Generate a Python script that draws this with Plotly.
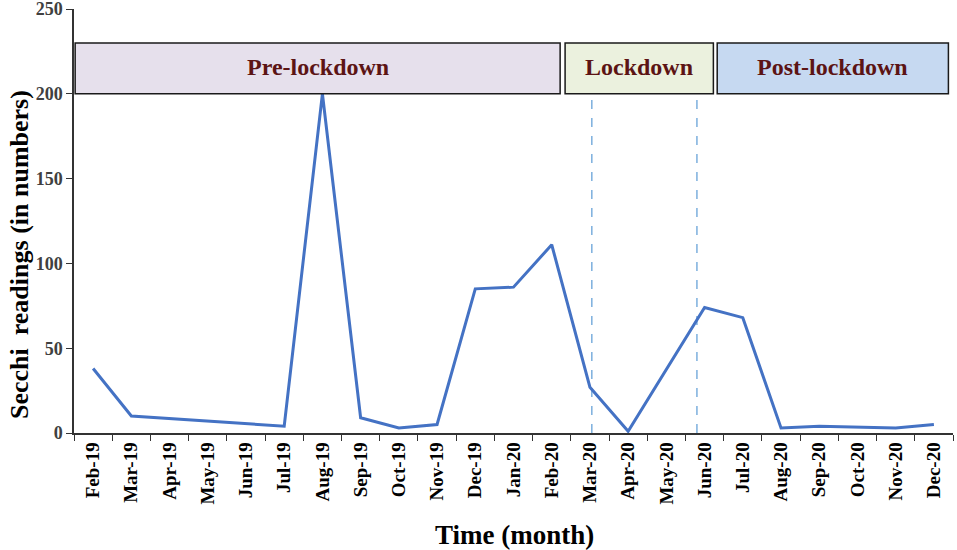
import plotly.graph_objects as go

months = ["Feb-19", "Mar-19", "Apr-19", "May-19", "Jun-19", "Jul-19", "Aug-19", "Sep-19",
          "Oct-19", "Nov-19", "Dec-19", "Jan-20", "Feb-20", "Mar-20", "Apr-20", "May-20",
          "Jun-20", "Jul-20", "Aug-20", "Sep-20", "Oct-20", "Nov-20", "Dec-20"]
secchi = [38, 10, None, None, None, 4, 200, 9, 3, 5, 85, 86, 111, 27, 1, None,
          74, 68, 3, 4, None, 3, 5]

phase_labels = ["Pre-lockdown", "Lockdown", "Post-lockdown"]
phase_x0 = [-0.47, 12.35, 16.33]
phase_x1 = [12.22, 16.23, 22.38]
phase_colors = ["#E6E0EC", "#EBF1DE", "#C6D9F1"]
phase_y0 = 200
phase_y1 = 230
lockdown_marks = [13.05, 15.8]

FONT = "Liberation Serif"

fig = go.Figure()
fig.add_trace(go.Scatter(x=months, y=secchi, mode="lines", connectgaps=True,
                         line=dict(color="#4472C4", width=3), showlegend=False))

for lab, x0, x1, c in zip(phase_labels, phase_x0, phase_x1, phase_colors):
    fig.add_shape(type="rect", xref="x", yref="y", x0=x0, x1=x1, y0=phase_y0, y1=phase_y1,
                  fillcolor=c, line=dict(color="#1a1a1a", width=1.5), layer="above")
    fig.add_annotation(x=(x0 + x1) / 2, y=(phase_y0 + phase_y1) / 2 + 1, xref="x", yref="y",
                       text="<b>%s</b>" % lab, showarrow=False,
                       font=dict(family=FONT, size=24, color="#5C1414"))

for xm in lockdown_marks:
    fig.add_shape(type="line", xref="x", yref="y", x0=xm, x1=xm, y0=0, y1=phase_y0,
                  line=dict(color="#5B9BD5", width=1.2, dash="dash"), layer="below")

fig.add_annotation(xref="paper", yref="paper", x=(514 - 74) / 879, y=(433 - 535) / 424,
                   text="<b>Time (month)</b>", showarrow=False, xanchor="center",
                   yanchor="middle", font=dict(family=FONT, size=27, color="#000000"))
fig.add_annotation(xref="paper", yref="paper", x=(19 - 74) / 879, y=(433 - 255) / 424,
                   text="<b>Secchi  readings (in numbers)</b>", showarrow=False,
                   textangle=-90, xanchor="center", yanchor="middle",
                   font=dict(family=FONT, size=26, color="#000000"))

fig.update_layout(
    width=957, height=550,
    margin=dict(l=74, r=4, t=9, b=117, autoexpand=False),
    plot_bgcolor="white", paper_bgcolor="white",
    font=dict(family=FONT, color="#000000"),
    xaxis=dict(type="category", tickson="boundaries", ticks="outside", ticklen=6,
               tickcolor="#333333", showline=True, linecolor="#333333", linewidth=1.5,
               showgrid=False, tickangle=-90, automargin=False,
               tickfont=dict(family=FONT, size=19, color="#000000", weight="bold"),
               range=[-0.5, 22.5]),
    yaxis=dict(range=[0, 250], tickvals=[0, 50, 100, 150, 200, 250], ticks="outside",
               ticklen=6, tickcolor="#333333", showline=True, linecolor="#333333",
               linewidth=1.5, showgrid=False, zeroline=False, automargin=False,
               ticklabeloverflow="allow",
               tickfont=dict(family=FONT, size=18, color="#404040", weight="bold")),
)

fig.write_html("out.html", config={"displayModeBar": False},
               post_script="document.body.style.margin='0px';")
